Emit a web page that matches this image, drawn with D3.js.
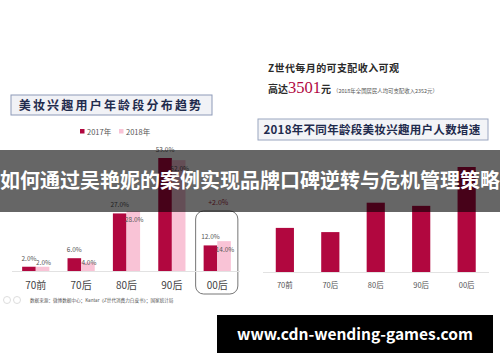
<!DOCTYPE html>
<meta charset="utf-8">
<script src="https://d3js.org/d3.v7.min.js"></script>
<style>
  body { margin: 0; background: #fff; }
  text { font-family: "Noto Sans CJK SC", "Noto Sans", sans-serif; }
</style>
<div id="page"></div>
<script>

  // Data
  var categories = ["70前", "70后", "80后", "90后", "00后"];
  var seriesNames = ["2017年", "2018年"];
  var share2017 = [2, 6, 27, 53, 12];
  var share2018 = [2, 4, 28, 52, 14];
  var growthIndex = [42, 38, 66, 63, 100];   // no axis on this one, relative heights
  var highlightCat = "00后";
  var highlightText = "+2.0%";

  var crimson = "#b1073f", pink = "#f9c3d6";
  var W = 500, H = 362;

  var svg = d3.select("#page").append("svg")
    .attr("width", W).attr("height", H);

  // ---------- left: age distribution ----------
  var left = svg.append("g");

  // title box
  left.append("rect").attr("x", 11).attr("y", 95).attr("width", 201).attr("height", 20)
    .attr("fill", "#f1f2f6").attr("stroke", "#8d9ab8").attr("stroke-width", 1);
  left.append("text").attr("x", 111).attr("y", 109.5).attr("text-anchor", "middle")
    .attr("font-size", 12).attr("font-weight", 700).attr("fill", "#1f2b4d")
    .attr("letter-spacing", 2.2).text("美妆兴趣用户年龄段分布趋势");

  // legend
  var legend = left.selectAll(".lg").data(seriesNames).enter().append("g")
    .attr("transform", function (d, i) { return "translate(" + (80 + i * 39) + ",132)"; });
  legend.append("rect").attr("x", 0).attr("y", -3).attr("width", 4.5).attr("height", 4.5)
    .attr("fill", function (d, i) { return i ? pink : crimson; });
  legend.append("text").attr("x", 7).attr("y", 2.5).attr("font-size", 7.5).attr("fill", "#555")
    .text(function (d) { return d; });

  var x0 = d3.scaleBand().domain(categories).range([4, 249]).padding(0.4);
  var x1 = d3.scaleBand().domain([0, 1]).range([0, x0.bandwidth()]);
  var yL = d3.scaleLinear().domain([0, 53]).range([271, 158]);

  // highlight box around 00后
  left.append("rect")
    .attr("x", x0(highlightCat) - 8).attr("y", 211)
    .attr("width", x0.bandwidth() + 15).attr("height", 83).attr("rx", 8)
    .attr("fill", "none").attr("stroke", "#666").attr("stroke-width", 0.9);
  left.append("text").attr("x", x0(highlightCat) + x0.bandwidth() / 2 + 1).attr("y", 205)
    .attr("text-anchor", "middle").attr("font-size", 7).attr("fill", "#a3283d")
    .text(highlightText);

  // baseline
  left.append("line").attr("x1", 12).attr("x2", 240).attr("y1", 271.5).attr("y2", 271.5)
    .attr("stroke", "#e2e2e2");

  var leftRows = categories.map(function (c, i) {
    return { cat: c, vals: [share2017[i], share2018[i]] };
  });
  var grp = left.selectAll(".grp").data(leftRows).enter().append("g")
    .attr("transform", function (d) { return "translate(" + x0(d.cat) + ",0)"; });

  grp.selectAll("rect").data(function (d) { return d.vals; }).enter().append("rect")
    .attr("x", function (d, i) { return x1(i); })
    .attr("width", x1.bandwidth())
    .attr("y", function (d) { return yL(d); })
    .attr("height", function (d) { return yL(0) - yL(d); })
    .attr("fill", function (d, i) { return i ? pink : crimson; });

  grp.selectAll("text").data(function (d) { return d.vals; }).enter().append("text")
    .attr("x", function (d, i) { return x1(i) + x1.bandwidth() / 2 + (i ? 1 : 0); })
    .attr("y", function (d, i) {
      return i ? Math.min(yL(d) + 11, yL(0) - 6) : yL(d) - 6;
    })
    .attr("text-anchor", "middle").attr("font-size", 6.5).attr("fill", "#555")
    .text(function (d) { return d.toFixed(1) + "%"; });

  left.selectAll(".catL").data(categories).enter().append("text")
    .attr("x", function (d) { return x0(d) + x0.bandwidth() / 2; })
    .attr("y", 289).attr("text-anchor", "middle").attr("font-size", 10).attr("fill", "#444")
    .text(function (d) { return d; });

  // source note
  left.append("circle").attr("cx", 7).attr("cy", 300).attr("r", 3.5)
    .attr("fill", "none").attr("stroke", "#ddd");
  left.append("circle").attr("cx", 17).attr("cy", 300).attr("r", 3.5)
    .attr("fill", "none").attr("stroke", "#ddd");
  left.append("text").attr("x", 30).attr("y", 302).attr("font-size", 4.6).attr("fill", "#555")
    .text("数据来源：微博数据中心；Kantar《Z世代消费力白皮书》；国家统计局");

  // ---------- right: income + growth ----------
  var right = svg.append("g");

  right.append("text").attr("x", 268).attr("y", 72).attr("font-size", 10)
    .attr("font-weight", 700).attr("fill", "#2a2a2a").attr("letter-spacing", 0.4)
    .text("Z世代每月的可支配收入可观");
  var line2 = right.append("text").attr("x", 268).attr("y", 93).attr("fill", "#2a2a2a");
  line2.append("tspan").attr("font-size", 10).attr("font-weight", 700).text("高达");
  line2.append("tspan").attr("font-size", 16.5).attr("fill", crimson)
    .attr("font-family", "Liberation Serif, serif").text("3501");
  line2.append("tspan").attr("font-size", 10).attr("font-weight", 700).text("元");
  line2.append("tspan").attr("font-size", 5.4).attr("fill", "#555").attr("dx", 2)
    .text("（2018年全国居民人均可支配收入2352元）");

  right.append("rect").attr("x", 258).attr("y", 119).attr("width", 230).attr("height", 21)
    .attr("fill", "#f3f4f7").attr("stroke", "#9aa6c0").attr("stroke-width", 1);
  right.append("text").attr("x", 372).attr("y", 134).attr("text-anchor", "middle")
    .attr("font-size", 11.5).attr("font-weight", 700).attr("fill", "#1f2b4d")
    .attr("letter-spacing", 0.3).text("2018年不同年龄段美妆兴趣用户人数增速");

  var xR = d3.scaleBand().domain(categories).range([248.5, 503]).padding(0.6);
  var yR = d3.scaleLinear().domain([0, 100]).range([272, 167]);

  right.append("line").attr("x1", 263).attr("x2", 489).attr("y1", 272.5).attr("y2", 272.5)
    .attr("stroke", "#e2e2e2");

  right.selectAll(".barR").data(growthIndex).enter().append("rect")
    .attr("x", function (d, i) { return xR(categories[i]); })
    .attr("width", xR.bandwidth())
    .attr("y", function (d) { return yR(d); })
    .attr("height", function (d) { return yR(0) - yR(d); })
    .attr("fill", crimson);

  right.selectAll(".catR").data(categories).enter().append("text")
    .attr("x", function (d) { return xR(d) + xR.bandwidth() / 2; })
    .attr("y", 288).attr("text-anchor", "middle").attr("font-size", 7.5).attr("fill", "#555")
    .text(function (d) { return d; });

  // ---------- overlay banner and watermark ----------
  svg.append("rect").attr("x", 0).attr("y", 150).attr("width", W).attr("height", 62)
    .attr("fill", "rgba(0,0,0,0.6)");
  svg.append("text").attr("x", W / 2).attr("y", 188).attr("text-anchor", "middle")
    .attr("font-size", 20).attr("font-weight", 700).attr("fill", "#fff")
    .text("如何通过吴艳妮的案例实现品牌口碑逆转与危机管理策略");

  svg.append("rect").attr("x", 217).attr("y", 315).attr("width", 276).attr("height", 38)
    .attr("fill", "#000");
  svg.append("text").attr("x", 355).attr("y", 340).attr("text-anchor", "middle")
    .attr("font-size", 15.5).attr("font-weight", 700).attr("fill", "#fff")
    .attr("font-family", "Open Sans, sans-serif")
    .text("www.cdn-wending-games.com");

</script>
